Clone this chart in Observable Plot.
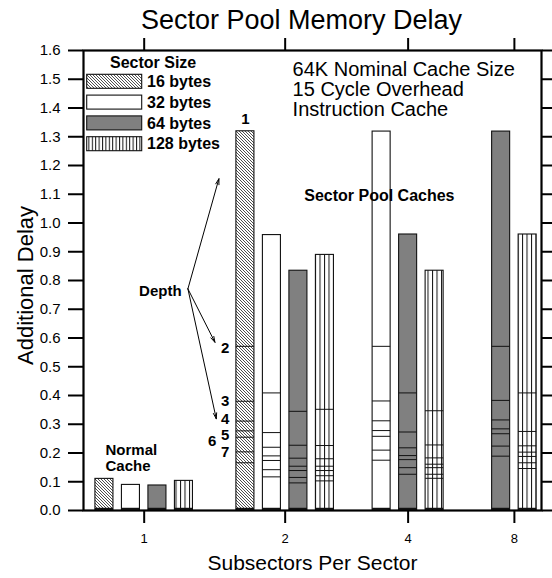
<!DOCTYPE html>
<html>
<head>
<meta charset="utf-8">
<script src="https://cdn.jsdelivr.net/npm/d3@7"></script>
<script src="https://cdn.jsdelivr.net/npm/@observablehq/plot@0.6"></script>
<style>
  html, body { margin: 0; padding: 0; background: #fff; }
</style>
</head>
<body>
<div id="chart"></div>
<script>
// ---------------- data ----------------
const subsectors = [1, 2, 4, 8];
const sectorSizes = [16, 32, 64, 128];
const sizeLabels = ["16 bytes", "32 bytes", "64 bytes", "128 bytes"];
const yTicks = [0.0, 0.1, 0.2, 0.3, 0.4, 0.5, 0.6, 0.7, 0.8, 0.9, 1.0, 1.1, 1.2, 1.3, 1.4, 1.5, 1.6];

// Normal cache (1 subsector per sector), one value per sector size
const normalCacheDelay = [0.110, 0.089, 0.087, 0.103];

// Sector pool caches: additional delay at depth 1..8
const depths = [1, 2, 3, 4, 5, 6, 7, 8];
const pool16x2  = [1.319, 0.571, 0.380, 0.311, 0.277, 0.255, 0.204, 0.166];
const pool32x2  = [0.958, 0.409, 0.271, 0.220, 0.190, 0.174, 0.142, 0.117];
const pool64x2  = [0.834, 0.345, 0.227, 0.182, 0.154, 0.139, 0.115, 0.096];
const pool128x2 = [0.889, 0.352, 0.226, 0.180, 0.154, 0.139, 0.121, 0.103];
const pool32x4  = [1.318, 0.571, 0.381, 0.312, 0.278, 0.258, 0.210, 0.175];
const pool64x4  = [0.960, 0.409, 0.273, 0.218, 0.191, 0.177, 0.149, 0.126];
const pool128x4 = [0.834, 0.347, 0.228, 0.183, 0.161, 0.149, 0.126, 0.112];
const pool64x8  = [1.318, 0.571, 0.383, 0.315, 0.284, 0.267, 0.224, 0.189];
const pool128x8 = [0.960, 0.409, 0.275, 0.225, 0.203, 0.188, 0.166, 0.146];

// ---------------- layout ----------------
const FONT = "'Liberation Sans', Arial, Helvetica, sans-serif";
const W = 552, H = 578;
const ML = 83, MR = 11, MT = 50, MB = 68;
const SLOT = 26.5;                         // px per bar slot
const X_MAX = (W - ML - MR) / SLOT;        // x domain in slot units
const groupStart = {1: 0.79, 2: 6.11, 4: 10.25, 8: 13.76};
const HALF = 0.34;

const xOf = d => groupStart[d.sub] + sectorSizes.indexOf(d.size);

const poolSeries = [
  {sub: 2, size: 16, values: pool16x2},
  {sub: 2, size: 32, values: pool32x2},
  {sub: 2, size: 64, values: pool64x2},
  {sub: 2, size: 128, values: pool128x2},
  {sub: 4, size: 32, values: pool32x4},
  {sub: 4, size: 64, values: pool64x4},
  {sub: 4, size: 128, values: pool128x4},
  {sub: 8, size: 64, values: pool64x8},
  {sub: 8, size: 128, values: pool128x8}
];

const barRows = [
  ...sectorSizes.map((size, i) => ({sub: 1, size, top: normalCacheDelay[i]})),
  ...poolSeries.map(s => ({sub: s.sub, size: s.size, top: s.values[0]}))
];
const levelRows = poolSeries.flatMap(s =>
  s.values.map((v, i) => ({sub: s.sub, size: s.size, depth: depths[i], value: v})));

// tick centres: mean position of the bars present in each group
const groupCenters = subsectors.map(sub => d3.mean(barRows.filter(d => d.sub === sub), xOf));

const fills = {16: "url(#p16)", 32: "#ffffff", 64: "#808080", 128: "url(#p128)"};

const depthRows = levelRows.filter(d => d.sub === 2 && d.size === 16);
const depthOf = (...ks) => depthRows.filter(d => ks.includes(d.depth));

// annotation arrows (Depth -> bar levels)
const arrowOrigin = [3.94, 0.771];
const arrowTargets = [[5.11, 1.154], [4.96, 0.585], [5.01, 0.319]];

const boldLabel = {x: xOf, y: "value", text: d => String(d.depth), fontSize: 15, fontWeight: "bold", fill: "#000"};

const marks = [];
for (const s of sectorSizes) {
  marks.push(Plot.rect(barRows.filter(d => d.size === s), {
    x1: d => xOf(d) - HALF, x2: d => xOf(d) + HALF,
    y1: () => 0, y2: "top",
    fill: fills[s], stroke: "#111", strokeWidth: 1.1
  }));
}
marks.push(
  Plot.ruleY(levelRows.filter(d => d.depth > 1), {
    y: "value", x1: d => xOf(d) - HALF, x2: d => xOf(d) + HALF,
    stroke: "#111", strokeWidth: 1
  }),
  Plot.ruleY(barRows, {
    y: () => 0.006, x1: d => xOf(d) - HALF, x2: d => xOf(d) + HALF,
    stroke: "#111", strokeWidth: 2
  }),
  Plot.frame({stroke: "#000", strokeWidth: 2.2}),
  Plot.axisY({ticks: yTicks, tickFormat: d3.format(".1f"), tickSize: 15, tickPadding: 8,
    fontSize: 15, strokeWidth: 2, label: null}),
  Plot.axisY({anchor: "right", ticks: yTicks, tickFormat: () => "", tickSize: 11,
    strokeWidth: 2, label: null}),
  Plot.axisX({ticks: groupCenters, tickFormat: d => String(subsectors[groupCenters.indexOf(d)]),
    tickSize: 13, tickPadding: 10, fontSize: 13, strokeWidth: 2, label: null}),
  Plot.axisX({anchor: "top", ticks: groupCenters, tickFormat: () => "", tickSize: 13,
    strokeWidth: 2, label: null}),
  // title and axis titles
  Plot.text(["Sector Pool Memory Delay"], {frameAnchor: "top", dx: -11, dy: -30, fontSize: 27,
    textAnchor: "middle", lineAnchor: "middle", fill: "#000"}),
  Plot.text(["Subsectors Per Sector"], {frameAnchor: "bottom", dy: 53, fontSize: 21,
    textAnchor: "middle", lineAnchor: "middle", fill: "#000"}),
  Plot.text(["Additional Delay"], {frameAnchor: "left", dx: -58, dy: 5, rotate: -90, fontSize: 22,
    textAnchor: "middle", lineAnchor: "middle", fill: "#000"}),
  // annotations
  Plot.text(["64K Nominal Cache Size\n15 Cycle Overhead\nInstruction Cache"], {
    x: () => 7.89, y: () => 1.559, textAnchor: "start", lineAnchor: "top",
    fontSize: 20, lineHeight: 1.0, fill: "#000"}),
  Plot.text(["Sector Pool Caches"], {x: () => 14.0, y: () => 1.096, textAnchor: "end",
    fontSize: 16, fontWeight: "bold", fill: "#000"}),
  Plot.text(["Normal\nCache"], {x: () => 0.83, y: () => 0.184, textAnchor: "start",
    fontSize: 15, fontWeight: "bold", lineHeight: 1.07, fill: "#000"}),
  Plot.text(["Depth"], {x: () => 2.9, y: () => 0.762, fontSize: 15, fontWeight: "bold", fill: "#000"}),
  Plot.arrow(arrowTargets, {x1: () => arrowOrigin[0], y1: () => arrowOrigin[1],
    x2: d => d[0], y2: d => d[1], stroke: "#000", strokeWidth: 1, headAngle: 32, headLength: 9}),
  Plot.text(depthOf(1), {...boldLabel, dy: -12}),
  Plot.text(depthOf(2), {...boldLabel, textAnchor: "end", dx: -16, dy: 2}),
  Plot.text(depthOf(3, 7), {...boldLabel, textAnchor: "end", dx: -16}),
  Plot.text(depthOf(4), {...boldLabel, textAnchor: "end", dx: -16, dy: -1.5}),
  Plot.text(depthOf(5), {...boldLabel, textAnchor: "end", dx: -16, dy: 4}),
  Plot.text(depthOf(6), {...boldLabel, textAnchor: "end", dx: -29, dy: 4})
);

const svg = Plot.plot({
  width: W, height: H,
  marginLeft: ML, marginRight: MR, marginTop: MT, marginBottom: MB,
  x: {domain: [0, X_MAX], axis: null},
  y: {domain: [0, 1.6], axis: null},
  style: {fontFamily: FONT, fontSize: "15px", color: "#000", background: "#fff", overflow: "visible"},
  marks
});

// patterns
const s = d3.select(svg);
const defs = s.insert("defs", ":first-child");
const p16 = defs.append("pattern").attr("id", "p16").attr("patternUnits", "userSpaceOnUse")
  .attr("width", 3).attr("height", 3);
p16.append("rect").attr("width", 3).attr("height", 3).attr("fill", "#fff");
p16.append("path").attr("d", "M0,0L3,3M-1,2L1,4M2,-1L4,1").attr("stroke", "#222").attr("stroke-width", 0.8);
const p128 = defs.append("pattern").attr("id", "p128").attr("patternUnits", "userSpaceOnUse")
  .attr("width", 4.5).attr("height", 10);
p128.append("rect").attr("width", 4.5).attr("height", 10).attr("fill", "#fff");
p128.append("line").attr("x1", 0.5).attr("x2", 0.5).attr("y1", 0).attr("y2", 10)
  .attr("stroke", "#111").attr("stroke-width", 1);
const p128L = defs.append("pattern").attr("id", "p128L").attr("patternUnits", "userSpaceOnUse")
  .attr("width", 3.4).attr("height", 10);
p128L.append("rect").attr("width", 3.4).attr("height", 10).attr("fill", "#fff");
p128L.append("line").attr("x1", 0.5).attr("x2", 0.5).attr("y1", 0).attr("y2", 10)
  .attr("stroke", "#111").attr("stroke-width", 1);

// legend (inside plot, top-left)
const lg = s.append("g").attr("font-family", FONT).attr("font-weight", "bold")
  .attr("fill", "#000").attr("text-anchor", "start");
lg.append("text").attr("x", ML + 27).attr("y", MT + 18).attr("font-size", 16)
  .attr("text-anchor", "start").text("Sector Size");
const legendFills = {16: "url(#p16)", 32: "#ffffff", 64: "#808080", 128: "url(#p128L)"};
sectorSizes.forEach((size, i) => {
  const y0 = MT + 24.3 + i * 20.8;
  lg.append("rect").attr("x", ML + 3.7).attr("y", y0).attr("width", 55).attr("height", 14)
    .attr("fill", legendFills[size]).attr("stroke", "#111").attr("stroke-width", 1.1);
  lg.append("text").attr("x", ML + 64).attr("y", y0 + 7).attr("dy", "0.36em")
    .attr("text-anchor", "start").attr("font-size", 16).text(sizeLabels[i]);
});

document.getElementById("chart").appendChild(svg);
</script>
</body>
</html>
